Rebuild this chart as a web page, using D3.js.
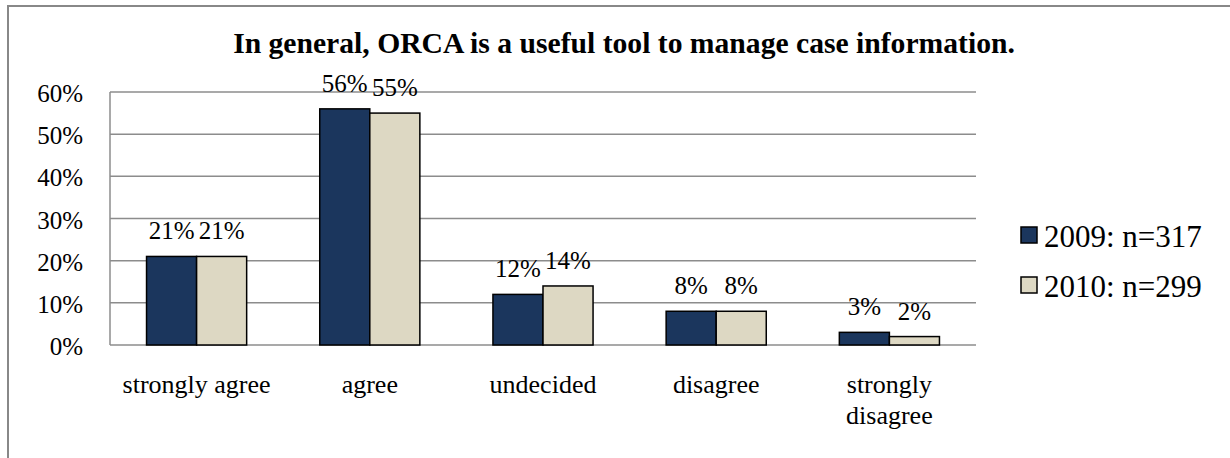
<!DOCTYPE html>
<html lang="en">
<head>
<meta charset="utf-8">
<title>ORCA survey</title>
<script src="https://d3js.org/d3.v7.min.js"></script>
<style>
  body { margin: 0; background: #fff; }
</style>
</head>
<body>
<svg width="1230" height="458" id="svg"></svg>
<script>
// data
var categories = ["strongly agree", "agree", "undecided", "disagree", "strongly disagree"];
var seriesNames = ["2009: n=317", "2010: n=299"];
var values2009 = [21, 56, 12, 8, 3];
var values2010 = [21, 55, 14, 8, 2];
var yTicks = [0, 10, 20, 30, 40, 50, 60];
var colors = ["#1b365d", "#ddd8c3"];

var serif = "'Liberation Serif', 'Times New Roman', Times, 'DejaVu Serif', serif";

var svg = d3.select("#svg")
    .style("font-family", serif);

// outer frame (clipped at the right and bottom)
svg.append("rect")
    .attr("x", 8).attr("y", 6)
    .attr("width", 1400).attr("height", 600)
    .attr("fill", "none").attr("stroke", "#888").attr("stroke-width", 2);

var plotL = 110, plotR = 976, plotT = 92, plotB = 345;

var x = d3.scaleBand().domain(categories).range([plotL, plotR]);
var x1 = d3.scaleBand().domain([0, 1]).range([0, x.bandwidth()]).paddingOuter(0.73);
var y = d3.scaleLinear().domain([0, 60]).range([plotB, plotT]);

// title, fitted to the width it has in the original
var title = svg.append("text")
    .attr("x", 624).attr("y", 53)
    .attr("text-anchor", "middle")
    .style("font-family", serif)
    .style("font-size", "30px").style("font-weight", "bold")
    .text("In general, ORCA is a useful tool to manage case information.");
var tw = title.node().getComputedTextLength();
title.style("font-size", (30 * 782 / tw) + "px");

// gridlines
svg.append("g").selectAll("line").data(yTicks).enter().append("line")
    .attr("x1", plotL).attr("x2", plotR)
    .attr("y1", function(d) { return y(d); }).attr("y2", function(d) { return y(d); })
    .attr("stroke", "#8c8c8c").attr("stroke-width", 1.5);

svg.append("line")
    .attr("x1", plotL).attr("x2", plotL).attr("y1", plotT).attr("y2", plotB)
    .attr("stroke", "#8c8c8c").attr("stroke-width", 1.5);

// y tick labels
svg.append("g").selectAll("text").data(yTicks).enter().append("text")
    .attr("x", 83).attr("y", function(d) { return y(d) + 10; })
    .attr("text-anchor", "end")
    .style("font-family", serif)
    .style("font-size", "25px")
    .text(function(d) { return d + "%"; });

// bars
var rows = categories.map(function(c, i) { return [values2009[i], values2010[i]]; });
var groups = svg.append("g").selectAll("g").data(rows).enter().append("g")
    .attr("transform", function(d, i) { return "translate(" + x(categories[i]) + ",0)"; });

groups.selectAll("rect").data(function(d) { return d; }).enter().append("rect")
    .attr("x", function(d, j) { return x1(j); })
    .attr("y", function(d) { return y(d); })
    .attr("width", x1.bandwidth())
    .attr("height", function(d) { return y(0) - y(d); })
    .attr("fill", function(d, j) { return colors[j]; })
    .attr("stroke", "#000").attr("stroke-width", 1.5);

groups.selectAll("text").data(function(d) { return d; }).enter().append("text")
    .attr("x", function(d, j) { return x1(j) + x1.bandwidth() / 2; })
    .attr("y", function(d) { return y(d) - 17; })
    .attr("text-anchor", "middle")
    .style("font-family", serif)
    .style("font-size", "25px")
    .text(function(d) { return d + "%"; });

// category labels (wrap long ones like the original)
svg.append("g").selectAll("text").data(categories).enter().append("text")
    .attr("text-anchor", "middle")
    .style("font-family", serif)
    .style("font-size", "26px")
    .each(function(d) {
        var lines = d === "strongly disagree" ? ["strongly", "disagree"] : [d];
        var t = d3.select(this);
        lines.forEach(function(l, k) {
            t.append("tspan")
                .attr("x", x(d) + x.bandwidth() / 2)
                .attr("y", 393 + k * 31)
                .text(l);
        });
    });

// legend
var legend = svg.append("g").selectAll("g").data(seriesNames).enter().append("g")
    .attr("transform", function(d, i) { return "translate(1021," + (247 + i * 50) + ")"; });
legend.append("rect")
    .attr("x", 0).attr("y", -20).attr("width", 16).attr("height", 16)
    .attr("fill", function(d, i) { return colors[i]; })
    .attr("stroke", "#000").attr("stroke-width", 1.5);
legend.append("text")
    .attr("x", 23).attr("y", 0)
    .style("font-family", serif)
    .style("font-size", "31px")
    .text(function(d) { return d; });
</script>
</body>
</html>
